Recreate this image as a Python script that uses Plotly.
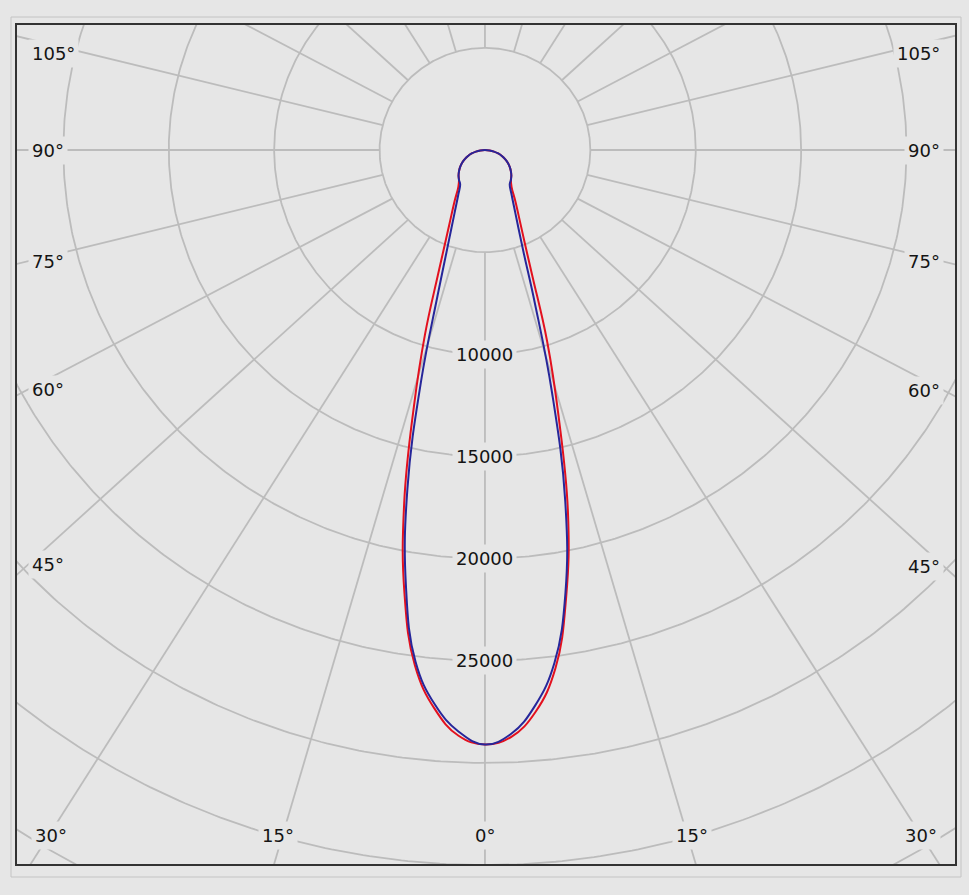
import numpy as np
import plotly.graph_objects as go

# vertical angle from nadir (deg) of the photometric data
gamma = [0, 2.5, 5, 7.5, 10, 12.5, 15, 17.5, 20, 22.5, 25, 30, 35,
         40, 45, 50, 55, 60, 65, 70, 75, 80, 85, 90]

# luminous intensity in cd
c0 = [29100, 28750, 27600, 25600, 22200, 18200, 13500, 9800, 6600, 4950, 3990, 2880, 2200,
      1915, 1770, 1605, 1435, 1250, 1055, 855, 650, 435, 220, 0]
c180 = [29100, 28700, 27450, 25450, 22000, 17700, 13050, 9450, 6540, 4940, 3980, 2870, 2200,
        1915, 1770, 1605, 1435, 1250, 1055, 855, 650, 435, 220, 0]
c90 = [29100, 28600, 27300, 25300, 22000, 17600, 12300, 7900, 5400, 4170, 3420, 2530, 2050,
       1915, 1770, 1605, 1435, 1250, 1055, 855, 650, 435, 220, 0]
c270 = [29100, 28500, 27250, 25250, 21600, 17000, 11700, 7480, 5350, 4170, 3420, 2530, 2050,
        1915, 1770, 1605, 1435, 1250, 1055, 855, 650, 435, 220, 0]

ring_values = [5000, 10000, 15000, 20000, 25000, 30000, 35000, 40000, 45000]
ring_labels = [10000, 15000, 20000, 25000]
spoke_angles = list(range(0, 360, 15))
angle_labels = [0, 15, 30, 45, 60, 75, 90, 105]

BG = "#e6e6e6"
GRID = "#bcbcbc"
FONT = dict(family="DejaVu Sans", size=18, color="#141414")

W, H = 969, 895
M = dict(l=17, r=14, t=25, b=31)
X_RANGE = [-22200, 22300]
Y_RANGE = [-34950, 6120]
# px per cd on each axis (the reference is slightly wider than tall)
kx = (W - M["l"] - M["r"]) / (X_RANGE[1] - X_RANGE[0])
ky = (H - M["t"] - M["b"]) / (Y_RANGE[1] - Y_RANGE[0])
# the reference spokes fan out a bit wider than the rings would suggest
SPOKE_STRETCH = 1.068


def spoke_dir(a):
    t = np.radians(a)
    d = np.array([SPOKE_STRETCH * np.sin(t), -np.cos(t)])
    return d / np.hypot(*d)


def plane(left, right):
    g = np.radians(gamma)
    il, ir = np.array(left), np.array(right)
    x = np.concatenate([-(il * np.sin(g))[::-1], (ir * np.sin(g))[1:]])
    y = np.concatenate([-(il * np.cos(g))[::-1], -(ir * np.cos(g))[1:]])
    return x, y


fig = go.Figure()

# rings
t = np.linspace(0, 2 * np.pi, 721)
for r in ring_values:
    fig.add_trace(go.Scatter(x=r * np.cos(t), y=r * np.sin(t), mode="lines",
                             line=dict(color=GRID, width=1.8), hoverinfo="skip"))

# spokes, starting on the innermost ring
sx, sy = [], []
for a in spoke_angles:
    d = spoke_dir(a)
    sx += [ring_values[0] * d[0], 80000 * d[0], None]
    sy += [ring_values[0] * d[1], 80000 * d[1], None]
fig.add_trace(go.Scatter(x=sx, y=sy, mode="lines", line=dict(color=GRID, width=1.8),
                         hoverinfo="skip"))

# C0-C180 and C90-C270 planes
x, y = plane(c180, c0)
fig.add_trace(go.Scatter(x=x, y=y, mode="lines", name="C0-C180",
                         line=dict(color="#e3101e", width=2, shape="spline", smoothing=1.2)))
x, y = plane(c270, c90)
fig.add_trace(go.Scatter(x=x, y=y, mode="lines", name="C90-C270",
                         line=dict(color="#26269a", width=2, shape="spline", smoothing=1.2)))

# intensity labels along the nadir line
for r in ring_labels:
    fig.add_annotation(x=0, y=-r, text=str(r), showarrow=False, font=FONT,
                       bgcolor=BG, borderpad=3)

# angle labels where the spokes leave the frame
side_in = 11 / kx
bottom_in = 14 / ky
top_min = 28 / ky
edge_min = 34 / kx
for a in angle_labels:
    for side in ([1] if a == 0 else [-1, 1]):
        d = spoke_dir(a)
        dx, dy = side * d[0], d[1]
        edge = (X_RANGE[1] if side > 0 else -X_RANGE[0]) - side_in
        t_side = edge / abs(dx) if dx else np.inf
        t_bot = (-Y_RANGE[0] - bottom_in) / -dy if dy < 0 else np.inf
        if t_side < t_bot:
            ly = min(dy * t_side, Y_RANGE[1] - top_min)
            fig.add_annotation(x=side * edge, y=ly, text=f"{a}°", showarrow=False,
                               xanchor="left" if side < 0 else "right", yanchor="middle",
                               font=FONT, bgcolor=BG, borderpad=3)
        else:
            lx = dx * t_bot
            lx = max(min(lx, X_RANGE[1] - edge_min), X_RANGE[0] + edge_min)
            fig.add_annotation(x=lx, y=Y_RANGE[0] + bottom_in, text=f"{a}°", showarrow=False,
                               xanchor="center", yanchor="bottom",
                               font=FONT, bgcolor=BG, borderpad=3)

# thin outer panel border
fig.add_shape(type="rect", xref="paper", yref="paper", x0=-0.0064, x1=1.0064,
              y0=-0.0155, y1=1.0095, line=dict(color="#c4c4c4", width=1), layer="below")

axis = dict(showgrid=False, zeroline=False, showticklabels=False, ticks="",
            showline=True, mirror=True, linecolor="#333333", linewidth=2)
fig.update_xaxes(range=X_RANGE, **axis)
fig.update_yaxes(range=Y_RANGE, **axis)
fig.update_layout(width=W, height=H, margin=dict(**M, pad=0), showlegend=False,
                  paper_bgcolor=BG, plot_bgcolor=BG, font=FONT)

fig.write_html("out.html", config={"displayModeBar": False},
               post_script="document.body.style.margin='0';")
